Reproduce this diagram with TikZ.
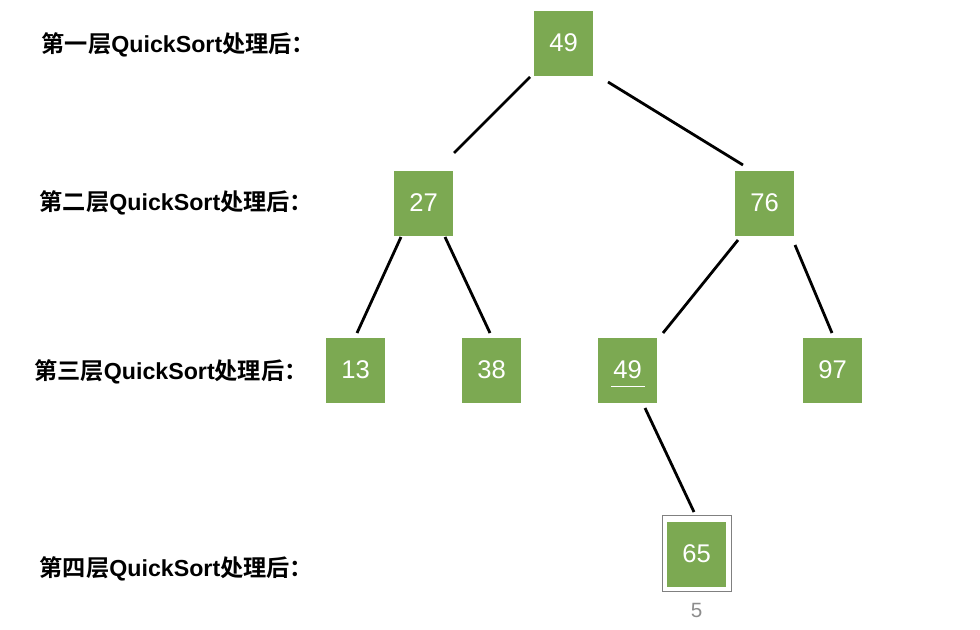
\documentclass[tikz,border=0pt]{standalone}
\usepackage{fontspec}
\setmainfont{Liberation Sans}
\newfontfamily\cjkfont{Noto Sans CJK SC}[BoldFont={* Bold}]
\definecolor{nodegreen}{HTML}{7CA952}
\definecolor{framegray}{HTML}{808080}
\definecolor{numgray}{HTML}{8C8C8C}
\newcommand{\qs}{{\rmfamily\bfseries QuickSort}}
\begin{document}
\begin{tikzpicture}[x=0.75pt,y=-0.75pt,
  numbox/.style={fill=nodegreen,minimum width=44.25pt,minimum height=48.75pt,inner sep=0pt,text=white,font=\fontsize{19.2}{21}\selectfont},
  levellabel/.style={anchor=west,inner sep=0pt,font=\cjkfont\bfseries\fontsize{17.4}{19}\selectfont},
  edge/.style={line width=2.1pt,black},
  framebox/.style={draw=framegray,line width=0.6pt,fill=none,minimum width=51.75pt,minimum height=57pt,inner sep=0pt}
]
\useasboundingbox (0,0) rectangle (980,629);
% level labels
\node[levellabel] (l1) at (41.5,44.5) {第一层\qs 处理后：};
\node[levellabel] (l2) at (39.5,202.5) {第二层\qs 处理后：};
\node[levellabel] (l3) at (34,371.5) {第三层\qs 处理后：};
\node[levellabel] (l4) at (39.5,569) {第四层\qs 处理后：};
% nodes
\node[numbox] (a) at (563.5,43) {49};
\node[numbox] (b) at (423.5,203) {27};
\node[numbox] (c) at (764.5,203) {76};
\node[numbox] (d) at (355.5,370) {13};
\node[numbox] (e) at (491.5,370) {38};
\node[numbox] (f) at (627.5,370) {49};
\node[numbox] (g) at (832.5,370) {97};
\node[framebox] (gf) at (696.5,553.5) {};
\node[numbox] (h) at (696.5,554) {65};
\node[text=numgray,font=\fontsize{15.5}{17}\selectfont,inner sep=0pt] (n5) at (696.5,610) {5};
% underline on third-level 49
\coordinate (ul1) at (611,386.5);
\coordinate (ul2) at (645,386.5);
\draw[white,line width=1.1pt] (ul1) -- (ul2);
% edge endpoints
\coordinate (a1) at (530,77);   \coordinate (b1) at (454,153);
\coordinate (a2) at (608,82);   \coordinate (c1) at (743,165);
\coordinate (b2) at (401,237);  \coordinate (d1) at (357,333);
\coordinate (b3) at (445,237);  \coordinate (e1) at (490,333);
\coordinate (c2) at (738,240);  \coordinate (f1) at (663,333);
\coordinate (c3) at (795,245);  \coordinate (g1) at (832,333);
\coordinate (f2) at (645,408);  \coordinate (h1) at (694,512);
\draw[edge] (a1) -- (b1);
\draw[edge] (a2) -- (c1);
\draw[edge] (b2) -- (d1);
\draw[edge] (b3) -- (e1);
\draw[edge] (c2) -- (f1);
\draw[edge] (c3) -- (g1);
\draw[edge] (f2) -- (h1);
\end{tikzpicture}
\end{document}
